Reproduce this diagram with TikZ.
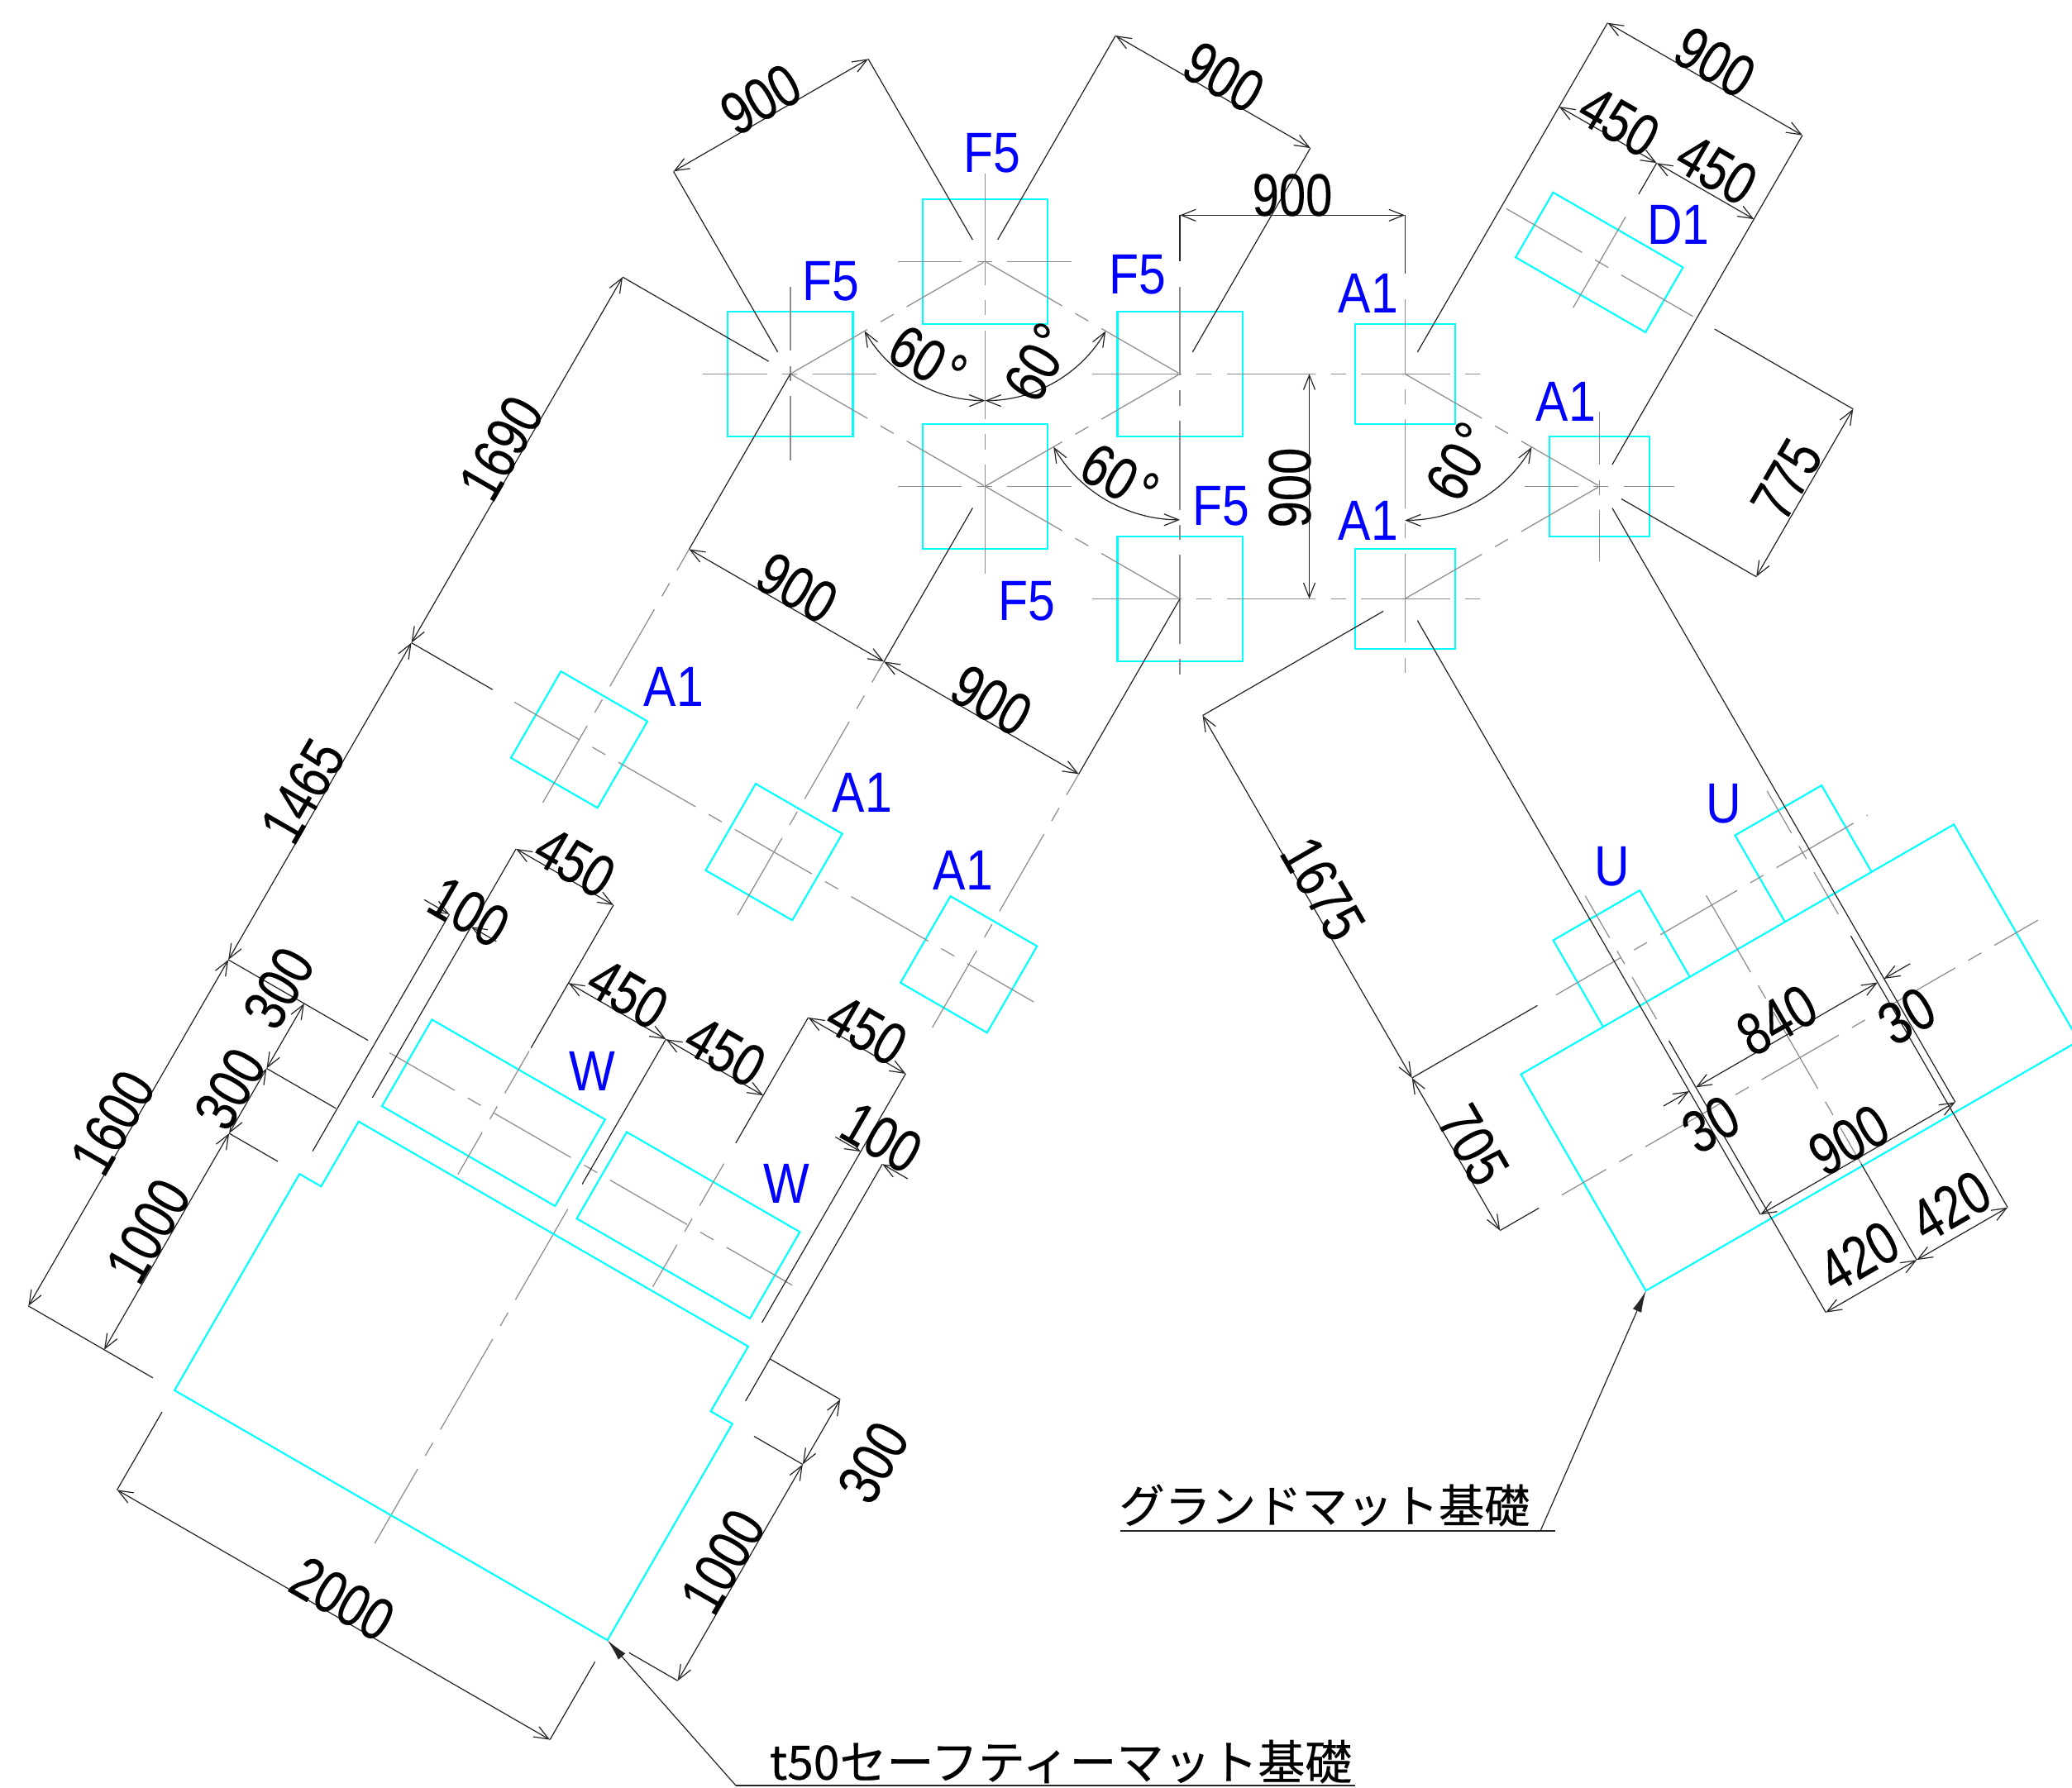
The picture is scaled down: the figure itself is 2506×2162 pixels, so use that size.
\documentclass[tikz,border=0pt]{standalone}
\usepackage{fontspec}
\usetikzlibrary{arrows.meta}
\newfontfamily\dimfont[FakeStretch=0.8,FakeBold=0.2]{Liberation Sans}
\newfontfamily\tagfont[FakeStretch=0.86]{Liberation Sans}
\newfontfamily\jpfont[FakeBold=0.4]{Noto Sans CJK JP}
\definecolor{matcyan}{RGB}{0,255,255}
\definecolor{tagblue}{RGB}{0,0,255}
\tikzset{
  hexframe/.style={shift={(1191.5,588.3)},x=.003023cm,y=.003023cm},
  wingL/.style={hexframe,rotate=-30},
  wingR/.style={hexframe,rotate=30},
  matline/.style={draw=matcyan,line width=.6pt},
  dimline/.style={draw=black!85,line width=.35pt},
  chainline/.style={draw=black!45,line width=.35pt,dash pattern=on 30.6pt off 5.2pt on 5.2pt off 5.2pt},
  crossaxis/.style={draw=black!45,line width=.35pt,dash pattern=on #1 off 5.2pt on 5.2pt off 5.2pt},
  dimtext/.style={inner sep=0pt,font=\dimfont\fontsize{20.6}{20.6}\selectfont},
  tagtext/.style={inner sep=0pt,text=tagblue,font=\tagfont\fontsize{19.5}{19.5}\selectfont},
  notetext/.style={inner sep=0pt,font=\jpfont\fontsize{#1}{#1}\selectfont},
}
\begin{document}
\begin{tikzpicture}[x=.01cm,y=-.01cm,>={Straight Barb[length=5pt,width=4pt]}]
\useasboundingbox (0,0) rectangle (2506,2162);

% hexagon of F5 and A1
\begin{scope}[hexframe]
  \foreach \x/\y in {0/900,-779.4/450,779.4/450,0/0,779.4/-450}
    \draw[matline] (\x-250,\y-250) rectangle (\x+250,\y+250);
  \foreach \x/\y in {1679.4/450,1679.4/-450,2458.8/0}
    \draw[matline] (\x-200,\y-200) rectangle (\x+200,\y+200);

  \foreach \x/\y in {0/900,-779.4/450,0/0}
    \draw[crossaxis=22.1pt] (\x-350,\y) -- (\x+350,\y);
  \draw[crossaxis=22.1pt] (-779.4,800) -- (-779.4,100);
  \draw[chainline,solid] (0,1250) -- (0,1162);
  \draw[chainline] (0,1162) -- (0,-266);
  \draw[chainline,solid] (0,-266) -- (0,-350);
  \draw[chainline] (779.4,800) -- (779.4,-800);
  \draw[chainline] (429.4,450) -- (1979.4,450);
  \draw[chainline] (429.4,-450) -- (1979.4,-450);
  \draw[chainline,dash phase=4.8pt] (1679.4,750) -- (1679.4,-750);
  \draw[crossaxis=18.4pt] (2158.8,0) -- (2758.8,0);
  \draw[crossaxis=18.4pt] (2458.8,300) -- (2458.8,-300);

  \draw[chainline] (-779.4,450) -- (0,900);
  \draw[chainline] (0,900) -- (779.4,450);
  \draw[chainline] (-779.4,450) -- (0,0);
  \draw[chainline] (0,0) -- (779.4,450);
  \draw[chainline] (0,0) -- (779.4,-450);
  \draw[chainline] (1679.4,450) -- (2458.8,0);
  \draw[chainline] (1679.4,-450) -- (2458.8,0);

  \draw[dimline] (779.4,900) -- (779.4,1085);
  \draw[dimline] (1679.4,850) -- (1679.4,1085);
  \draw[dimline,<->] (779.4,1085) -- (1679.4,1085);
  \draw[dimline,<->] (1297,450) -- (1297,-450);

  \draw[dimline,<->] ([shift=(210:557)]0,900) arc (210:270:557);
  \draw[dimline,<->] ([shift=(270:557)]0,900) arc (270:330:557);
  \draw[dimline,<->] ([shift=(210:584)]779.4,450) arc (210:270:584);
  \draw[dimline,<->] ([shift=(270:586)]1679.4,450) arc (270:330:586);
\end{scope}

% left wing, A1 row, W and the safety mat, top dims too
\begin{scope}[wingL]
  \foreach \x in {-900,0,900}
    \draw[matline] (\x-200,-1890) rectangle (\x+200,-1490);
  \draw[chainline,dash phase=4.8pt] (-1200,-1690) -- (1200,-1690);
  \foreach \x in {-900,0,900} {
    \draw[chainline,dash phase=22.3pt] (\x,-810) -- (\x,-1990);
    \draw[dimline] (\x,-100) -- (\x,-810);
  }
  \draw[dimline] (-900,0) -- (-900,-100);
  \draw[dimline] (900,0) -- (900,-100);
  \draw[dimline,<->] (-900,-810) -- (0,-810);
  \draw[dimline,<->] (0,-810) -- (900,-810);

  \draw[dimline] (-1675,0) -- (-1000,0);
  \draw[dimline] (-1675,-1690) -- (-1300,-1690);
  \draw[dimline] (-1675,-3155) -- (-1030,-3155);
  \draw[dimline] (-1675,-4755) -- (-1100,-4755);
  \draw[dimline] (-1325,-3455) -- (-1005,-3455);
  \draw[dimline] (-1325,-3755) -- (-1100,-3755);
  \draw[dimline,<->] (-1675,0) -- (-1675,-1690);
  \draw[dimline,<->] (-1675,-1690) -- (-1675,-3155);
  \draw[dimline,<->] (-1675,-3155) -- (-1675,-4755);
  \draw[dimline,<->] (-1325,-3155) -- (-1325,-3455);
  \draw[dimline,<->] (-1325,-3455) -- (-1325,-3755);
  \draw[dimline,<->] (-1325,-3755) -- (-1325,-4755);

  \draw[matline] (-850,-3355) rectangle (-50,-2955);
  \draw[matline] (50,-3355) rectangle (850,-2955);
  \draw[chainline,dash phase=4.8pt] (-930,-3155) -- (930,-3155);
  \draw[crossaxis=16.7pt] (-450,-2870) -- (-450,-3440);
  \draw[crossaxis=16.7pt] (450,-2870) -- (450,-3440);
  \draw[crossaxis=36pt] (0,-3340) -- (0,-4885);

  \draw[matline] (-1000,-4755) -- (-1000,-3755) -- (-900,-3755) -- (-900,-3455)
     -- (900,-3455) -- (900,-3755) -- (1000,-3755) -- (1000,-4755) -- cycle;
  \coordinate (safetycorner) at (1000,-4755);

  \draw[dimline] (-1000,-2555) -- (-1000,-3650);
  \draw[dimline] (-900,-2195) -- (-900,-3345);
  \draw[dimline] (-450,-2195) -- (-450,-2855);
  \draw[dimline] (0,-2555) -- (0,-3225);
  \draw[dimline] (450,-2195) -- (450,-2775);
  \draw[dimline] (900,-2195) -- (900,-3345);
  \draw[dimline] (1000,-2555) -- (1000,-3650);
  \draw[dimline,<->] (-900,-2195) -- (-450,-2195);
  \draw[dimline,<->] (450,-2195) -- (900,-2195);
  \draw[dimline,<->] (-450,-2555) -- (0,-2555);
  \draw[dimline,<->] (0,-2555) -- (450,-2555);
  \draw[dimline,->] (-1117,-2555) -- (-1000,-2555);
  \draw[dimline,->] (-783,-2555) -- (-900,-2555);
  \draw[dimline,->] (783,-2555) -- (900,-2555);
  \draw[dimline,->] (1117,-2555) -- (1000,-2555);

  \draw[dimline] (1000,-3455) -- (1325,-3455);
  \draw[dimline] (1100,-3755) -- (1325,-3755);
  \draw[dimline] (1100,-4755) -- (1325,-4755);
  \draw[dimline,<->] (1325,-3455) -- (1325,-3755);
  \draw[dimline,<->] (1325,-3755) -- (1325,-4755);
  \draw[dimline] (-1000,-4855) -- (-1000,-5215);
  \draw[dimline] (1000,-4855) -- (1000,-5215);
  \draw[dimline,<->] (-1000,-5215) -- (1000,-5215);

  % D1
  \draw[matline] (1380,1855) rectangle (1980,2155);
  \draw[crossaxis=30.1pt] (1250,2005) -- (2113,2005);
  \draw[chainline,solid] (1680,2215) -- (1680,1795);
  \draw[dimline] (1229.4,1330) -- (1229.4,2851.6);
  \draw[dimline] (2129.4,1330) -- (2129.4,2851.6);
  \draw[dimline] (1680,2320) -- (1680,2464);
  \draw[dimline,<->] (1229.4,2851.6) -- (2129.4,2851.6);
  \draw[dimline,<->] (1229.4,2464) -- (1680,2464);
  \draw[dimline,<->] (1680,2464) -- (2129.4,2464);
  \draw[dimline] (2213,2004.4) -- (2853,2004.4);
  \draw[dimline] (2230,1229.4) -- (2853,1229.4);
  \draw[dimline,<->] (2853,2004.4) -- (2853,1229.4);

  \draw[dimline] (-450,880) -- (-450,1823);
  \draw[dimline] (450,880) -- (450,1823);
  \draw[dimline,<->] (-450,1823) -- (450,1823);
\end{scope}

% right wing, U and the ground mat
\begin{scope}[wingR]
  \draw[dimline] (-450,880) -- (-450,1715);
  \draw[dimline] (450,880) -- (450,1715);
  \draw[dimline,<->] (-450,1715) -- (450,1715);

  \draw[matline] (680,-4110) rectangle (2680,-3110);
  \coordinate (groundcorner) at (680,-4110);
  \draw[matline] (1060,-3110) -- (1060,-2710) -- (1460,-2710) -- (1460,-3110);
  \draw[matline] (1900,-3110) -- (1900,-2710) -- (2300,-2710) -- (2300,-3110);
  \draw[chainline,dash phase=4.8pt] (960,-2905) -- (2400,-2905);
  \draw[chainline,dash phase=13pt] (580,-3610) -- (2780,-3610);
  \draw[chainline] (1680,-2860) -- (1680,-4100);
  \draw[crossaxis=16.7pt] (1260,-2620) -- (1260,-3190);
  \draw[crossaxis=16.7pt] (2100,-2620) -- (2100,-3190);

  \draw[dimline] (295,-1229.4) -- (1130,-1229.4);
  \draw[dimline] (295,-2904.4) -- (875,-2904.4);
  \draw[dimline] (295,-3609.4) -- (475,-3609.4);
  \draw[dimline,<->] (295,-1229.4) -- (295,-2904.4);
  \draw[dimline,<->] (295,-2904.4) -- (295,-3609.4);

  \draw[dimline] (1229.4,-1330) -- (1229.4,-4075);
  \draw[dimline] (2129.4,-1330) -- (2129.4,-4075);
  \draw[dimline] (1260,-3290) -- (1260,-4545);
  \draw[dimline] (2100,-3290) -- (2100,-4545);
  \draw[dimline,<->] (1260,-3505) -- (2100,-3505);
  \draw[dimline,->] (1110,-3505) -- (1229.4,-3505);
  \draw[dimline,->] (2250,-3505) -- (2129.4,-3505);
  \draw[dimline,<->] (1229.4,-4075) -- (2129.4,-4075);
  \draw[dimline] (1680,-4100) -- (1680,-4545);
  \draw[dimline,<->] (1260,-4545) -- (1680,-4545);
  \draw[dimline,<->] (1680,-4545) -- (2100,-4545);
\end{scope}

% leaders
\coordinate (safetyfoot) at (890,2160);
\coordinate (safetyend) at (1639,2160);
\coordinate (groundfoot) at (1863,1852);
\coordinate (groundstart) at (1355,1852);
\coordinate (groundend) at (1881,1852);
\draw[dimline] (safetyfoot) -- (safetyend);
\draw[dimline] (groundstart) -- (groundend);
\draw[dimline,-{Latex[length=7.5pt,width=3.2pt]}] (safetyfoot) -- (safetycorner);
\draw[dimline,-{Latex[length=7.5pt,width=3.2pt]}] (groundfoot) -- (groundcorner);
\node[notetext=16.2] (safetynote) at (1283,2131) {t50セーフティーマット基礎};
\node[notetext=15.7] (groundnote) at (1602,1821) {グランドマット基礎};

% dimension values
\foreach \lbl/\px/\py/\ang [count=\i] in {
  900/920/120/30, 900/1480/93/-30, 900/1563/236/0, 900/2074/75/-30,
  450/1958/147/-30, 450/2076/205/-30, 775/2161/580/60,
  60\kern1.5pt°/1122/435/-30, 60\kern1.5pt°/1256/438/60,
  60\kern1.5pt°/1354/578/-30, 60\kern1.5pt°/1766/558/60,
  900/1560/590/90, 1690/606/542/60, 1465/366/957/60, 1600/136/1358/60,
  1000/179/1489/60, 300/337/1195/60, 300/278/1317/60,
  900/964/711/-30, 900/1199/847/-30, 450/695/1043/-30, 100/567/1103/-30,
  450/759/1202/-30, 450/877/1272/-30, 450/1048/1246/-30, 100/1066/1376/-30,
  300/1056/1769/60, 1000/874/1889/60, 2000/414/1934/-30,
  1675/1600/1075/-60, 705/1782/1385/-60, 840/2149/1234/30, 30/2306/1229/30,
  30/2069/1360/30, 900/2236/1379/30, 420/2248/1520/30, 420/2359/1459/30}
  \node[dimtext,rotate=\ang] (dim\i) at (\px,\py) {\lbl};

% tags
\foreach \lbl/\px/\py [count=\i] in {
  F5/1200/185, F5/1005/340, F5/1376/332, F5/1477/612, F5/1242/727,
  A1/1655/355, A1/1655/630, A1/1894/486, D1/2030/272,
  A1/815/831, A1/1043/959, A1/1165/1053, W/716/1296, W/951/1432,
  U/1950/1048, U/2085/972}
  \node[tagtext] (tag\i) at (\px,\py) {\lbl};
\end{tikzpicture}
\end{document}
